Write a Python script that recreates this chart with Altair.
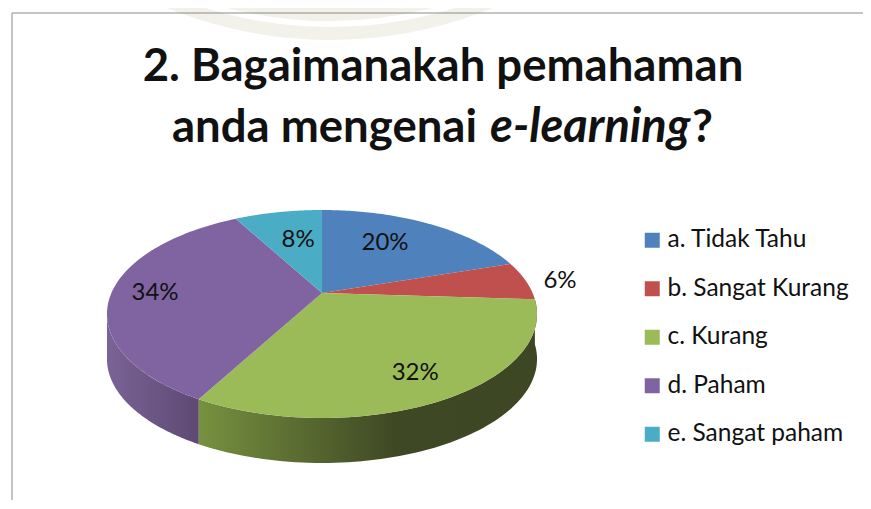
import math
import altair as alt

categories = ["a. Tidak Tahu", "b. Sangat Kurang", "c. Kurang", "d. Paham", "e. Sangat paham"]
percents = [20, 6, 32, 34, 8]
percent_labels = ["20%", "6%", "32%", "34%", "8%"]
colors = ["#4f81bd", "#c0504d", "#9bbb59", "#8064a2", "#4bacc6"]

W, H = 855, 492
OX, OY = 8, 8

# perspective of the tilted disc (page pixels)
CX, CY, D, C, A = 322.0, 293.0, 210.6, 0.2019, -40.6
DEPTH = 45.0


def disc(theta_deg, r=1.0):
    t = math.radians(theta_deg)
    u, v = r * math.sin(t), r * math.cos(t)
    w = 1 + C * v
    return [CX + D * u / w - OX, (A * v + CY) / w - OY]


def arc(a, b, n=80):
    return [disc(a + (b - a) * i / n) for i in range(n + 1)]


def feature(ring, **props):
    ring = ring + [ring[0]]
    return {"type": "Feature", "properties": props,
            "geometry": {"type": "Polygon", "coordinates": [ring]}}


def wall(a, b):
    top = arc(a, b)
    bottom = [[x, y + DEPTH] for x, y in reversed(top)]
    return feature(top + bottom, slice="wall")


cum = [0]
for p in percents:
    cum.append(cum[-1] + p)
angles = [c * 3.6 for c in cum]

faces = []
for i, name in enumerate(categories):
    faces.append(feature([disc(0, 0)] + arc(angles[i], angles[i + 1]), slice=name))


def geo_values(features):
    return alt.InlineData(values={"type": "FeatureCollection", "features": features},
                          format=alt.DataFormat(property="features", type="json"))


def shaded(a, b, stops):
    return (alt.Chart(geo_values([wall(a, b)]))
            .mark_geoshape(fill=alt.Gradient(gradient="linear", x1=0, x2=1, y1=0, y2=0, stops=stops),
                           strokeWidth=0)
            .project(type="identity", scale=1, translate=[0, 0]))


wall_green = shaded(angles[2], angles[3], [
    alt.GradientStop(offset=0, color="#76913f"),
    alt.GradientStop(offset=0.58, color="#3f4824"),
    alt.GradientStop(offset=1, color="#3e4723"),
])
wall_purple = shaded(angles[3], 258.0, [
    alt.GradientStop(offset=0, color="#7a6396"),
    alt.GradientStop(offset=1, color="#5e4973"),
])

top = (alt.Chart(geo_values(faces))
       .mark_geoshape(strokeWidth=0)
       .encode(fill=alt.Fill("properties.slice:N",
                             scale=alt.Scale(domain=categories, range=colors),
                             legend=alt.Legend(title=None, orient="none", legendX=632, legendY=220,
                                               symbolType="square", symbolSize=225, symbolStrokeWidth=0,
                                               labelFont="Lato", labelFontSize=24.5, labelColor="#111111",
                                               rowPadding=23.5, labelOffset=3, labelLimit=300)))
       .project(type="identity", scale=1, translate=[0, 0]))

label_r = [0.65, 1.165, 0.79, 0.793, 0.608]
label_turn = [-5.2, 1.1, 0, 0, 2.3]
mids = [(angles[i] + angles[i + 1]) / 2 for i in range(5)]
label_rows = []
for i, t in enumerate(percent_labels):
    x, y = disc(mids[i] + label_turn[i], label_r[i])
    label_rows.append({"t": t, "x": x, "y": y})

labels = (alt.Chart(alt.Data(values=label_rows))
          .mark_text(font="Lato", fontSize=24, color="#111111")
          .encode(x=alt.X("x:Q", scale=None), y=alt.Y("y:Q", scale=None), text="t:N"))


def txt(s, x, y, style="normal", align="left", size=45.5):
    return (alt.Chart(alt.Data(values=[{"t": s}]))
            .mark_text(font="Lato", fontSize=size, fontWeight="bold", fontStyle=style,
                       align=align, baseline="alphabetic", color="#111111")
            .encode(x=alt.value(x - OX), y=alt.value(y - OY), text="t:N"))


title = [txt("2. Bagaimanakah pemahaman", 443, 81, align="center"),
         txt("anda mengenai", 172, 142),
         txt("e-learning", 490, 142, style="italic", size=47),
         txt("?", 692, 142)]

one = alt.Data(values=[{"k": 0}])
watermark = [
    alt.Chart(one).mark_arc(radius=r2, radius2=r1, theta=2.65, theta2=3.63, color="#f2f1ea").encode(
        x=alt.value(330 - OX), y=alt.value(-390 - OY))
    for r1, r2 in [(417, 430), (300, 411)]
]

frame_top = alt.Chart(one).mark_rule(color="#8a8a8a", strokeWidth=1).encode(
    x=alt.value(12 - OX), x2=alt.value(W), y=alt.value(13 - OY))
frame_left = alt.Chart(one).mark_rule(color="#8a8a8a", strokeWidth=1).encode(
    x=alt.value(12 - OX), y=alt.value(13 - OY), y2=alt.value(H))

chart = alt.layer(*watermark, frame_top, frame_left, wall_green, wall_purple, top, labels, *title).properties(
    width=W, height=H, padding=0, autosize=alt.AutoSizeParams(type="none"),
    background="white").configure_view(stroke=None)

chart.save("out.html", embed_options={"renderer": "svg", "actions": False})
